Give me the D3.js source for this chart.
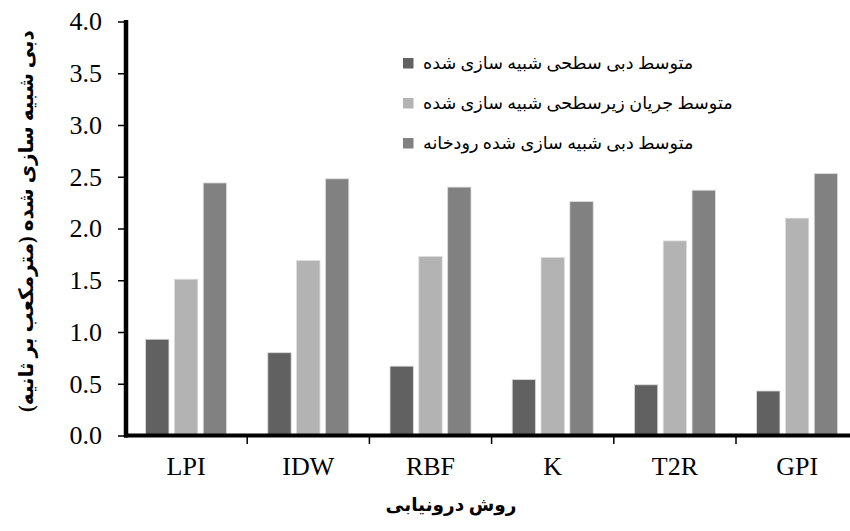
<!DOCTYPE html>
<html>
<head>
<meta charset="utf-8">
<script src="https://cdn.jsdelivr.net/npm/d3@7"></script>
<style>
  body { margin: 0; background: #fff; }
  text { font-family: "Liberation Serif", "DejaVu Serif", serif; }
  .fa { font-family: "Liberation Serif", "DejaVu Sans", sans-serif; }
</style>
</head>
<body>
<div id="chart"></div>
<script>
    // chart values
    const categories = ['LPI', 'IDW', 'RBF', 'K', 'T2R', 'GPI'];
    const seriesNames = [
        'متوسط دبی سطحی شبیه سازی شده',
        'متوسط جریان زیرسطحی شبیه سازی شده',
        'متوسط دبی شبیه سازی شده رودخانه'
    ];
    const surfaceFlow = [0.93, 0.80, 0.67, 0.54, 0.49, 0.43];
    const subsurfaceFlow = [1.51, 1.69, 1.73, 1.72, 1.88, 2.10];
    const riverFlow = [2.44, 2.48, 2.40, 2.26, 2.37, 2.53];
    const yTicks = [0, 0.5, 1.0, 1.5, 2.0, 2.5, 3.0, 3.5, 4.0];
    const colors = ['#616161', '#b3b3b3', '#818181'];

    const yTitle = 'دبی شبیه سازی شده (مترمکعب بر ثانیه)';
    const xTitle = 'روش درونیابی';

    const W = 850, H = 531;
    const m = { left: 125, top: 21.5, bottom: 435.5 };
    const plotW = 122.2 * categories.length;

    const svg = d3.select('#chart').append('svg')
        .attr('width', W)
        .attr('height', H);

    const x = d3.scaleBand()
        .domain(categories)
        .range([m.left, m.left + plotW]);

    const y = d3.scaleLinear()
        .domain([0, 4])
        .range([m.bottom, m.top]);

    const series = [surfaceFlow, subsurfaceFlow, riverFlow];
    const inner = d3.scaleBand()
        .domain(d3.range(series.length))
        .range([0, 81])
        .paddingInner(0.19);

    // bars
    series.forEach(( vals, s ) => {
        svg.append('g').selectAll('rect')
            .data(vals)
            .join('rect')
            .attr('x', ( d, i ) => x(categories[i]) + x.bandwidth()/2 - 40.5 + inner(s))
            .attr('y', d => y(d))
            .attr('width', inner.bandwidth())
            .attr('height', d => y(0) - y(d))
            .attr('fill', colors[s])
            .attr('stroke', '#dcdcdc')
            .attr('stroke-width', 0.8);
    });

    // y axis
    const yAxis = svg.append('g')
        .attr('transform', 'translate(126,0)')
        .call(d3.axisLeft(y).tickValues(yTicks).tickFormat(d3.format('.1f')).tickSize(8).tickSizeOuter(0));
    yAxis.select('.domain').remove();
    yAxis.append('line')
        .attr('y1', m.top - 1.5).attr('y2', m.bottom + 2)
        .attr('stroke', '#000').attr('stroke-width', 4.5);
    yAxis.selectAll('.tick line').attr('stroke-width', 1.5);
    yAxis.selectAll('.tick text')
        .attr('x', -24)
        .style('font-size', '26px')
        .style('font-family', '"Liberation Serif", serif')
        .attr('fill', '#000');

    // x axis
    const xAxis = svg.append('g')
        .attr('transform', `translate(0,${m.bottom})`)
        .call(d3.axisBottom(x).tickSize(0).tickSizeOuter(0));
    xAxis.select('.domain').remove();
    xAxis.append('line')
        .attr('x1', 124).attr('x2', W)
        .attr('stroke', '#000').attr('stroke-width', 4);
    xAxis.selectAll('.tick text')
        .attr('y', 21)
        .style('font-size', '26px')
        .style('font-family', '"Liberation Serif", serif')
        .attr('fill', '#000');

    // tick marks between categories
    xAxis.selectAll('.sep')
        .data(categories.slice(1))
        .join('line')
        .attr('class', 'sep')
        .attr('x1', d => x(d)).attr('x2', d => x(d))
        .attr('y1', 0).attr('y2', 8.5)
        .attr('stroke', '#000').attr('stroke-width', 1.5);

    // legend
    const legend = svg.append('g');
    seriesNames.forEach(( name, i ) => {
        const ly = 63 + i * 40;
        legend.append('rect')
            .attr('x', 403).attr('y', ly - 5)
            .attr('width', 10.5).attr('height', 10.5)
            .attr('fill', colors[i]);
        legend.append('text')
            .attr('class', 'fa')
            .attr('x', 423).attr('y', ly + 6)
            .attr('text-anchor', 'start')
            .style('font-size', '17.6px')
            .attr('fill', '#000')
            .text(name);
    });

    // axis titles
    svg.append('text')
        .attr('class', 'fa')
        .attr('transform', 'translate(33,221) rotate(-90)')
        .attr('text-anchor', 'middle')
        .attr('direction', 'rtl')
        .style('font-size', '20px')
        .style('font-weight', 'bold')
        .text(yTitle);

    svg.append('text')
        .attr('class', 'fa')
        .attr('x', 451).attr('y', 511)
        .attr('text-anchor', 'middle')
        .attr('direction', 'rtl')
        .style('font-size', '18.5px')
        .style('font-weight', 'bold')
        .text(xTitle);
</script>
</body>
</html>
